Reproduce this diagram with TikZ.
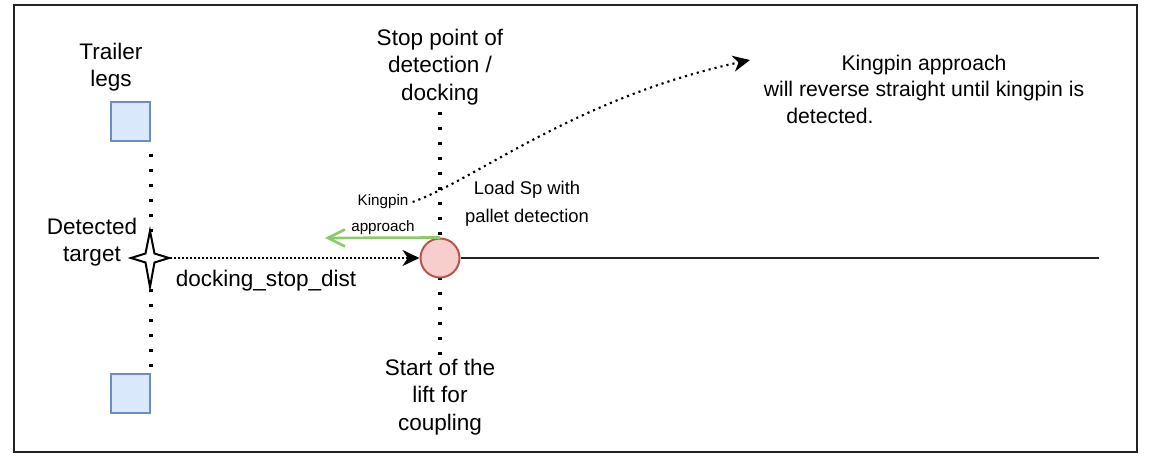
\documentclass[tikz,border=0pt]{standalone}
\usepackage{fontspec}
\setmainfont{Liberation Sans}
\usetikzlibrary{arrows.meta,positioning,calc}
\definecolor{legblue}{HTML}{6C8EBF}
\definecolor{legfill}{HTML}{DAE8FC}
\definecolor{wpred}{HTML}{B85450}
\definecolor{wpfill}{HTML}{F8CECC}
\definecolor{kpgreen}{HTML}{8CCB6A}
\definecolor{framegray}{HTML}{222222}
\tikzstyle{leg}=[draw=legblue,fill=legfill,line width=1.5pt,minimum size=29.25pt,inner sep=0pt]
\tikzstyle{wp}=[circle,draw=wpred,fill=wpfill,line width=1.5pt,minimum size=29.25pt,inner sep=0pt]
\tikzstyle{bigdots}=[line width=2.5pt,dash pattern=on 2.5pt off 8.75pt]
\tikzstyle{finedots}=[line width=1.5pt,dash pattern=on 1.5pt off 1.5pt]
\tikzstyle{hit}=[-{Stealth[length=12.75pt,width=12pt,inset=4pt]}]
\tikzstyle{lbl}=[font=\fontsize{16.9}{20.5}\selectfont,align=center,inner sep=0pt]
\tikzstyle{smalltxt}=[font=\fontsize{11.4}{13}\selectfont,inner sep=3pt]

\begin{document}
\begin{tikzpicture}[x=0.75pt,y=-0.75pt]
\useasboundingbox (0,0) rectangle (1149,463);
\draw[line width=1.6pt,draw=framegray] (14,5) rectangle (1137,452);

% trailer legs
\node (legtop) [leg] at (130.5,121.5) {};
\node (legbot) [leg] at (130.5,393.5) {};
\node (legtxt) [lbl] at (111,67) {Trailer\\legs};
\draw[bigdots,shorten <=9pt] (legtop.south east) -- (legbot.north east);

% stop point line
\coordinate (gtop) at (440,112);
\coordinate (gbot) at (440,355);
\draw[bigdots] (gtop) -- (gbot);
\node (stoptxt) [lbl] at (440,67) {Stop point of\\detection /\\docking};
\node (lifttxt) [lbl] at (440,397) {Start of the\\lift for\\coupling};

% waypoint and path
\node (wp) [wp] at (440,258) {};
\coordinate (pathend) at (1099,258);
\draw[line width=1.9pt,draw=framegray] (wp.east) -- (pathend);

% detected target
\coordinate (target) at (150,258);
\draw[finedots,hit] (target) -- (wp.west);
\draw[line width=1.5pt,fill=white,line join=miter] (150,231) -- (154.5,253.5) -- (169,258)
  -- (154.5,262.5) -- (150,287) -- (145.5,262.5) -- (131,258) -- (145.5,253.5) -- cycle;
\node (targettxt) [lbl] at (92,242) {Detected\\target};
\node (disttxt) [lbl] at (266,281) {docking\_stop\_dist};

% kingpin approach
\node (loadtxt) [font=\fontsize{13.8}{21}\selectfont,align=center,inner sep=0pt] at (527,204) {Load Sp with\\pallet detection};
\node (kp) [smalltxt] at (383,202) {Kingpin};
\node (ap) [smalltxt] at (383,228) {approach};
\coordinate (kpend) at (325,238);
\draw[line width=2pt,draw=kpgreen,-{Straight Barb[length=12.75pt,width=12.75pt,line width=2pt]}] (wp.north) -- (kpend);
\coordinate (kptip) at (750,60);
\draw[line width=1.6pt,dash pattern=on 1.6pt off 3pt,hit] (kp.east) .. controls (475,180) and (575,98) .. (kptip);
\node (note) [font=\fontsize{15.9}{19.9}\selectfont,align=center,inner sep=0pt] at (924,89) {Kingpin approach\\will reverse straight until kingpin is\\detected.\hspace*{141pt}};
\end{tikzpicture}
\end{document}
